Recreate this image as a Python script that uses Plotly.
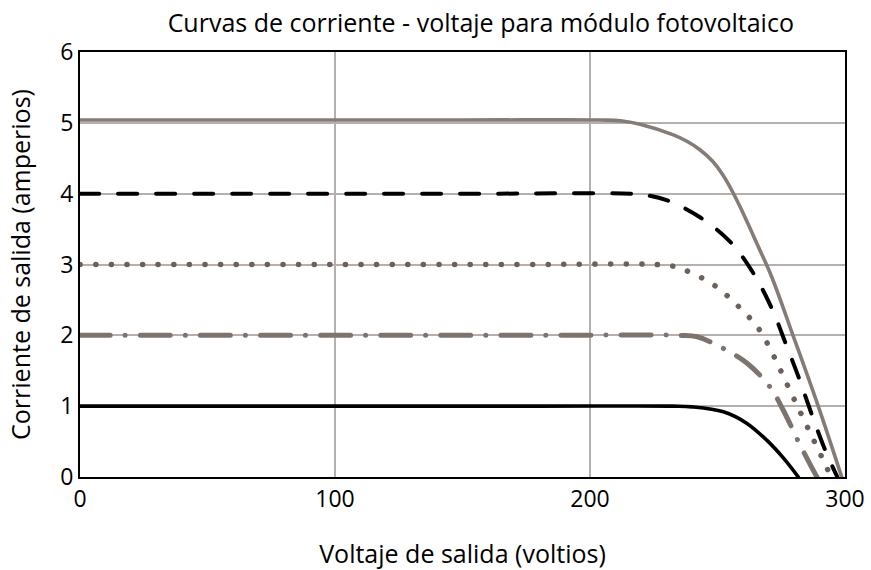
import plotly.graph_objects as go

# Current-voltage curves of a photovoltaic module for five irradiance levels
v_5a = [0, 150, 204, 212, 219.6, 232.7, 238, 243.1, 248, 252, 256, 260.1, 265.4,
        271.2, 279.6, 289.5, 298.7]
i_5a = [5.04, 5.04, 5.04, 5.03, 4.98, 4.83, 4.74, 4.62, 4.46, 4.27, 4.02, 3.72, 3.30,
        2.83, 2.0, 1.0, 0]

v_4a = [0, 160, 216, 222, 230, 243, 255, 264, 271.3, 277, 281.7, 287, 292, 297]
i_4a = [4.0, 4.0, 4.0, 3.98, 3.91, 3.67, 3.32, 2.88, 2.38, 1.86, 1.42, 0.88, 0.40, 0]

v_3a = [0, 170, 226, 232, 238, 248.6, 257.6, 266, 271.9, 277, 282.4, 287.6, 293, 294.5]
i_3a = [3.0, 3.0, 3.0, 2.98, 2.91, 2.71, 2.43, 2.10, 1.72, 1.33, 0.92, 0.53, 0.12, 0]

v_2a = [0, 180, 235, 242, 252, 261.5, 270.6, 275.7, 282, 286, 289]
i_2a = [2.0, 2.0, 2.0, 1.98, 1.82, 1.61, 1.27, 0.95, 0.48, 0.2, 0]

v_1a = [0, 180, 232.5, 240, 252.3, 261.4, 269.3, 275.8, 281.7]
i_1a = [1.0, 1.0, 1.0, 0.99, 0.92, 0.76, 0.52, 0.27, 0]

x_ticks = [0, 100, 200, 300]
y_ticks = [0, 1, 2, 3, 4, 5, 6]

FONT = "Open Sans"

curves = [
    (v_1a, i_1a, dict(color="#000000", width=3.6, dash="solid")),
    (v_2a, i_2a, dict(color="#7d7470", width=5, dash="30px,15px,0.1px,15px")),
    (v_3a, i_3a, dict(color="#6c605a", width=5.5, dash="0.1px,15.5px")),
    (v_4a, i_4a, dict(color="#000000", width=4, dash="19px,19px")),
    (v_5a, i_5a, dict(color="#857b77", width=3.6, dash="solid")),
]

fig = go.Figure()
for v, i, line in curves:
    fig.add_trace(go.Scatter(
        x=v, y=i, mode="lines",
        line=dict(shape="spline", smoothing=1.0, **line),
        hoverinfo="skip", showlegend=False,
    ))

axis_common = dict(
    showline=True, linecolor="#000000", linewidth=2, mirror=True,
    showgrid=True, gridcolor="#b5b0ae", gridwidth=1.5,
    zeroline=False, ticks="", automargin=False,
    tickfont=dict(family=FONT, size=23, color="#000"),
)

fig.update_xaxes(
    range=[0, 300], tickvals=x_ticks, ticktext=[str(t) for t in x_ticks],
    title=dict(text="Voltaje de salida (voltios)", standoff=36,
               font=dict(family=FONT, size=25, color="#000")),
    **axis_common,
)
fig.update_yaxes(
    range=[0, 6], tickvals=y_ticks, ticktext=[str(t) for t in y_ticks],
    title=dict(text="Corriente de salida (amperios)", standoff=22,
               font=dict(family=FONT, size=25, color="#000")),
    **axis_common,
)

fig.update_layout(
    width=871, height=570,
    margin=dict(l=80, r=26, t=52, b=93),
    paper_bgcolor="#ffffff", plot_bgcolor="#ffffff",
    title=dict(text="Curvas de corriente - voltaje para módulo fotovoltaico",
               x=0.552, xanchor="center", xref="container",
               y=0.96, yanchor="middle",
               font=dict(family=FONT, size=25, color="#000")),
    font=dict(family=FONT, color="#000"),
)

# Round line caps so that dotted and dashed strokes end in rounded dots/dashes
round_caps = """
document.querySelectorAll('.scatterlayer .js-line').forEach(function (p) {
  p.style.strokeLinecap = 'round';
  p.style.strokeLinejoin = 'round';
});
"""

fig.write_html("out.html", post_script=round_caps)
